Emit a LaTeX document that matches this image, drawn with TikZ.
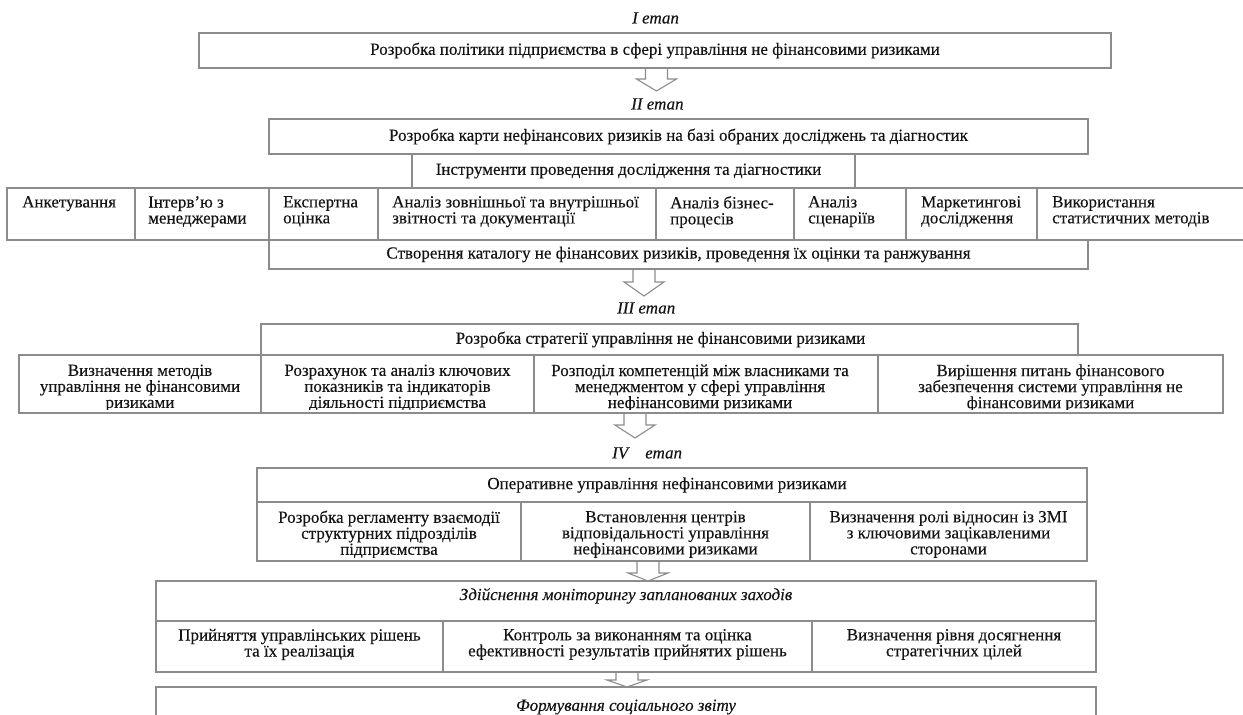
\documentclass[tikz,border=0pt]{standalone}
\usepackage{fontspec}
\setmainfont{Liberation Serif}[FakeBold=0.25]
\definecolor{ln}{RGB}{140,140,140}
\definecolor{tx}{RGB}{20,20,20}
\newcommand{\dfont}{\fontsize{17}{16}\selectfont\lineskiplimit=-100pt\relax}
\begin{document}
\begin{tikzpicture}[x=1pt,y=-1pt,
  bx/.style={draw=ln, line width=1.2pt, inner sep=0pt, outer sep=0pt, anchor=north west, align=center, font=\dfont, text=tx},
  tt/.style={inner sep=0pt, align=center, font=\dfont, text=tx},
  lbl/.style={anchor=west, inner sep=0pt, font=\dfont\itshape, text=tx},
  ttx/.style={anchor=north west, inner sep=0pt, align=left, font=\dfont, text=tx},
  arr/.style={draw=ln, line width=1.1pt, line join=miter},
  pics/barrow/.style 2 args={code={\draw[arr] (-11,0) -- (-11,#1) -- (-20,#1) -- (0,#1+#2) -- (20,#1) -- (11,#1) -- (11,0);}}
]
\path[fill=white, use as bounding box] (0,0) rectangle (1243,715);

% Stage I
\node[lbl] (l1) at (632,18) {I етап};
\node[bx, minimum width=912, minimum height=35] (b1) at (199,33) {Розробка політики підприємства в сфері управління не фінансовими ризиками};
\pic at ([xshift=1.5pt]b1.south) {barrow={11}{12}};

% Stage II
\node[lbl] (l2) at (631,104) {II етап};
\node[bx, minimum width=819, minimum height=35] (b2) at (269,119) {Розробка карти нефінансових ризиків на базі обраних досліджень та діагностик};
\node[bx, minimum width=443, minimum height=34] (b3) at (412,154) {};
\node[tt] (b3x) at ([xshift=-5pt]b3.center) {Інструменти проведення дослідження та діагностики};

\node[bx, minimum width=128, minimum height=52] (t1) at (7,188) {};
\node[bx, minimum width=134, minimum height=52] (t2) at (135,188) {};
\node[bx, minimum width=109, minimum height=52] (t3) at (269,188) {};
\node[bx, minimum width=278, minimum height=52] (t4) at (378,188) {};
\node[bx, minimum width=138, minimum height=52] (t5) at (656,188) {};
\node[bx, minimum width=112, minimum height=52] (t6) at (794,188) {};
\node[bx, minimum width=131, minimum height=52] (t7) at (906,188) {};
\node[bx, minimum width=210, minimum height=52] (t8) at (1037,188) {};
\node[ttx] (t1x) at ([xshift=15pt,yshift=-8pt]t1.north west) {Анкетування};
\node[ttx] (t2x) at ([xshift=13pt,yshift=-8pt]t2.north west) {Інтерв’ю з\\менеджерами};
\node[ttx] (t3x) at ([xshift=14pt,yshift=-8pt]t3.north west) {Експертна\\оцінка};
\node[ttx] (t4x) at ([xshift=14pt,yshift=-8pt]t4.north west) {Аналіз зовнішньої та внутрішньої\\звітності та документації};
\node[ttx] (t5x) at ([xshift=14pt,yshift=-8pt]t5.north west) {Аналіз бізнес-\\процесів};
\node[ttx] (t6x) at ([xshift=14pt,yshift=-8pt]t6.north west) {Аналіз\\сценаріїв};
\node[ttx] (t7x) at ([xshift=15pt,yshift=-8pt]t7.north west) {Маркетингові\\дослідження};
\node[ttx] (t8x) at ([xshift=15pt,yshift=-8pt]t8.north west) {Використання\\статистичних методів};

\node[bx, minimum width=819, minimum height=29] (b4) at (269,240) {Створення каталогу не фінансових ризиків, проведення їх оцінки та ранжування};
\pic at ([xshift=-34.5pt]b4.south) {barrow={13}{14}};

% Stage III
\node[lbl] (l3) at (617,308) {III етап};
\node[bx, minimum width=817, minimum height=31] (s0) at (261,324) {};
\node[tt] (s0x) at ([xshift=-9pt]s0.center) {Розробка стратегії управління не фінансовими ризиками};
\node[bx, minimum width=242, minimum height=58] (s1) at (19,355) {};
\node[bx, minimum width=273, minimum height=58] (s2) at (261,355) {};
\node[bx, minimum width=344, minimum height=58] (s3) at (534,355) {};
\node[bx, minimum width=345, minimum height=58] (s4) at (878,355) {};
\begin{scope}
\clip (s1.north west) rectangle ([yshift=4pt]s4.south east);
\node[tt] (s1x) at ([yshift=-4pt]s1.center) {Визначення методів\\управління не фінансовими\\ризиками};
\node[tt] (s2x) at ([yshift=-4pt]s2.center) {Розрахунок та аналіз ключових\\показників та індикаторів\\діяльності підприємства};
\node[tt] (s3x) at ([xshift=-6pt,yshift=-4pt]s3.center) {Розподіл компетенцій між власниками та\\менеджментом у сфері управління\\нефінансовими ризиками};
\node[tt] (s4x) at ([yshift=-4pt]s4.center) {Вирішення питань фінансового\\забезпечення системи управління не\\фінансовими ризиками};
\end{scope}
\pic at ([xshift=-71pt]s3.south) {barrow={12}{13}};

% Stage IV
\node[lbl] (l4) at (612,453) {IV\hspace{17pt}етап};
\node[bx, minimum width=830, minimum height=34] (o0) at (257,468) {};
\node[tt] (o0x) at ([xshift=-5pt]o0.center) {Оперативне управління нефінансовими ризиками};
\node[bx, minimum width=264, minimum height=59] (o1) at (257,502) {};
\node[bx, minimum width=289, minimum height=59] (o2) at (521,502) {};
\node[bx, minimum width=277, minimum height=59] (o3) at (810,502) {};
\begin{scope}
\clip (o1.north west) rectangle ([yshift=4pt]o3.south east);
\node[tt] (o1x) at ([yshift=-3pt]o1.center) {Розробка регламенту взаємодії\\структурних підрозділів\\підприємства};
\node[tt] (o2x) at ([yshift=-3pt]o2.center) {Встановлення центрів\\відповідальності управління\\нефінансовими ризиками};
\node[tt] (o3x) at ([yshift=-3pt]o3.center) {Визначення ролі відносин із ЗМІ\\з ключовими зацікавленими\\сторонами};
\end{scope}
\pic at ([xshift=-17.5pt]o2.south) {barrow={12}{8}};

% Monitoring
\node[bx, minimum width=940, minimum height=40, text depth=14pt] (m0) at (156,581) {\itshape Здійснення моніторингу запланованих заходів};
\node[bx, minimum width=287, minimum height=51] (m1) at (156,621) {};
\node[bx, minimum width=369, minimum height=51] (m2) at (443,621) {};
\node[bx, minimum width=284, minimum height=51] (m3) at (812,621) {};
\node[tt] (m1x) at ([yshift=2pt]m1.center) {Прийняття управлінських рішень\\та їх реалізація};
\node[tt] (m2x) at ([yshift=2pt]m2.center) {Контроль за виконанням та оцінка\\ефективності результатів прийнятих рішень};
\node[tt] (m3x) at ([yshift=2pt]m3.center) {Визначення рівня досягнення\\стратегічних цілей};
\pic at ([xshift=-0.5pt]m2.south) {barrow={8}{7}};

% Social report
\node[bx, minimum width=940, minimum height=40] (f0) at (156,687) {\itshape Формування соціального звіту};
\end{tikzpicture}
\end{document}
